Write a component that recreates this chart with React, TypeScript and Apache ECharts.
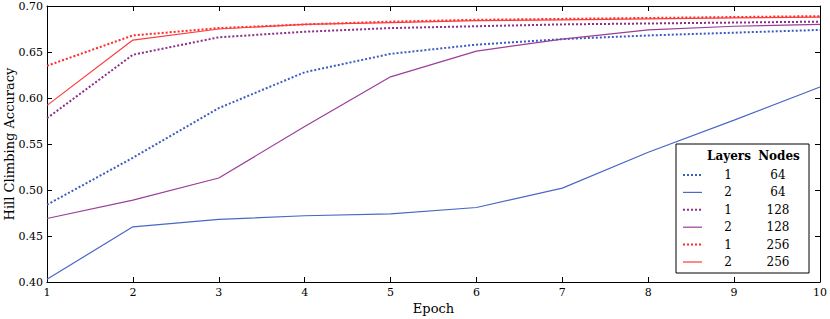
import React, { useEffect, useRef } from "react";
import * as echarts from "echarts";

const epochs = ["1", "2", "3", "4", "5", "6", "7", "8", "9", "10"];

const layers = [1, 2, 1, 2, 1, 2];
const nodes = [64, 64, 128, 128, 256, 256];

const l1n64 = [0.484, 0.535, 0.589, 0.628, 0.648, 0.658, 0.664, 0.668, 0.671, 0.674];
const l2n64 = [0.403, 0.460, 0.468, 0.472, 0.474, 0.481, 0.502, 0.541, 0.576, 0.612];
const l1n128 = [0.578, 0.647, 0.666, 0.672, 0.676, 0.678, 0.680, 0.681, 0.682, 0.683];
const l2n128 = [0.469, 0.489, 0.513, 0.569, 0.623, 0.651, 0.664, 0.674, 0.678, 0.680];
const l1n256 = [0.635, 0.668, 0.676, 0.680, 0.683, 0.685, 0.686, 0.687, 0.688, 0.689];
const l2n256 = [0.592, 0.663, 0.675, 0.680, 0.682, 0.684, 0.685, 0.686, 0.687, 0.688];

const seriesData = [l1n64, l2n64, l1n128, l2n128, l1n256, l2n256];
const colors = ["#3d5cc0", "#4a68c4", "#8b2d8b", "#9a3e9a", "#ff2a2a", "#ff3a3a"];

const FONT = "DejaVu Serif";

export default function App() {
  const ref = useRef<HTMLDivElement>(null);
  useEffect(() => {
    document.body.style.margin = "0";
    const chart = echarts.init(ref.current!, null, { renderer: "svg" });
    const left = 47, right = 10, top = 6, bottom = 37;

    const lineStyleFor = (i: number) =>
      layers[i] === 1
        ? { color: colors[i], width: 2, type: [2, 2] as number[] }
        : { color: colors[i], width: 1.2, type: "solid" as const };

    const series = seriesData.map((d, i) => ({
      type: "line",
      name: `${layers[i]}-${nodes[i]}`,
      data: d,
      showSymbol: false,
      symbol: "none",
      lineStyle: lineStyleFor(i),
      z: 2 + i,
    }));

    // legend graphic
    const lx = 676, ly = 144, lw = 133, lh = 129;
    const graphics: any[] = [
      { type: "rect", shape: { x: lx, y: ly, width: lw, height: lh }, style: { fill: "#fff", stroke: "#000", lineWidth: 1 }, z: 100 },
      { type: "text", x: 729, y: 156, style: { text: "Layers", font: `bold 12px '${FONT}'`, fill: "#000", align: "center", verticalAlign: "middle" }, z: 101 },
      { type: "text", x: 779, y: 156, style: { text: "Nodes", font: `bold 12px '${FONT}'`, fill: "#000", align: "center", verticalAlign: "middle" }, z: 101 },
    ];
    layers.forEach((l, i) => {
      const y = 175 + i * 17.4;
      const ls = lineStyleFor(i);
      graphics.push({
        type: "line",
        shape: { x1: 683, y1: y, x2: 702, y2: y },
        style: { stroke: ls.color, lineWidth: ls.width, lineDash: layers[i] === 1 ? [2, 2] : null },
        z: 101,
      });
      graphics.push({ type: "text", x: 728, y, style: { text: String(l), font: `12px '${FONT}'`, fill: "#000", align: "center", verticalAlign: "middle" }, z: 101 });
      graphics.push({ type: "text", x: 778, y, style: { text: String(nodes[i]), font: `12px '${FONT}'`, fill: "#000", align: "center", verticalAlign: "middle" }, z: 101 });
    });

    const axisLine = { show: true, lineStyle: { color: "#000", width: 1 } };
    chart.setOption({
      animation: false,
      grid: { left, right, top, bottom, show: false, outerBoundsMode: "none", containLabel: false },
      xAxis: [
        {
          type: "category",
          data: epochs,
          boundaryGap: false,
          axisLine,
          axisTick: { show: true, inside: true, length: 5, lineStyle: { color: "#000" }, alignWithLabel: true },
          axisLabel: { fontFamily: FONT, fontSize: 11, color: "#000", margin: 5 },
          splitLine: { show: false },
          name: "Epoch",
          nameLocation: "middle",
          nameGap: 20,
          nameMoveOverlap: false,
          nameTextStyle: { fontFamily: FONT, fontSize: 13, color: "#000" },
        },
        {
          type: "category",
          data: epochs,
          position: "top",
          boundaryGap: false,
          axisLine,
          axisTick: { show: true, inside: true, length: 5, lineStyle: { color: "#000" } },
          axisLabel: { show: false },
          splitLine: { show: false },
        },
      ],
      yAxis: [
        {
          type: "value",
          min: 0.4,
          max: 0.7,
          interval: 0.05,
          axisLine,
          axisTick: { show: true, inside: true, length: 5, lineStyle: { color: "#000" } },
          axisLabel: { fontFamily: FONT, fontSize: 11, color: "#000", margin: 4, formatter: (v: number) => v.toFixed(2) },
          splitLine: { show: false },
          name: "Hill Climbing Accuracy",
          nameLocation: "middle",
          nameGap: 31,
          nameMoveOverlap: false,
          nameTextStyle: { fontFamily: FONT, fontSize: 13, color: "#000" },
        },
        {
          type: "value",
          min: 0.4,
          max: 0.7,
          interval: 0.05,
          position: "right",
          axisLine,
          axisTick: { show: true, inside: true, length: 5, lineStyle: { color: "#000" } },
          axisLabel: { show: false },
          splitLine: { show: false },
        },
      ],
      series,
      graphic: graphics,
    });
    return () => chart.dispose();
  }, []);
  return <div ref={ref} style={{ width: 830, height: 319, position: "absolute", left: 0, top: 0 }} />;
}
